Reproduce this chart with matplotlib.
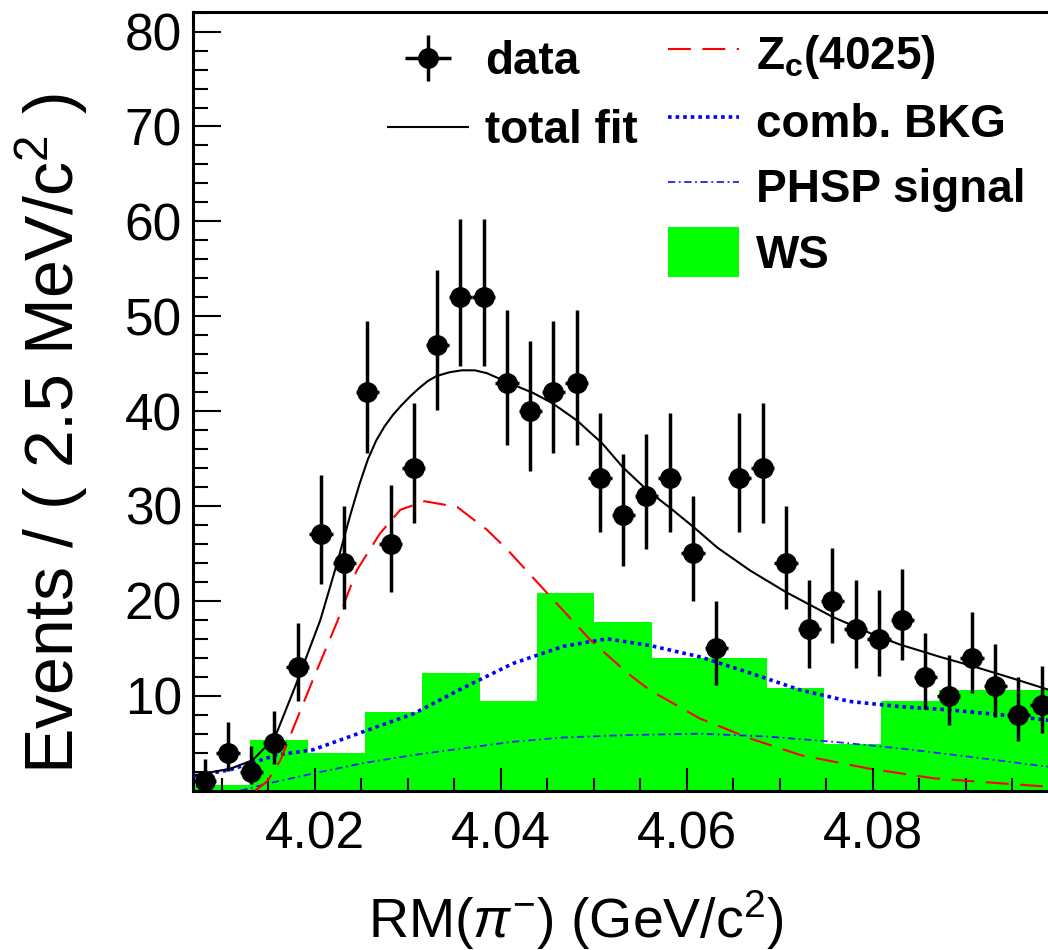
import numpy as np
import matplotlib
matplotlib.use("Agg")
import matplotlib.pyplot as plt
from matplotlib.ticker import FixedLocator, MultipleLocator

plt.rcParams["font.family"] = ["Liberation Sans", "DejaVu Sans"]
plt.rcParams["mathtext.fontset"] = "custom"
plt.rcParams["mathtext.rm"] = "Liberation Sans"
plt.rcParams["mathtext.it"] = "Liberation Sans:italic"
plt.rcParams["mathtext.bf"] = "Liberation Sans:bold"

##########
# data

# data histogram: 37 bins of 2.5 MeV starting at the low edge
bin_lo = 4.0069
bin_w = 0.0025
counts = [1, 4, 2, 5, 13, 27, 24, 42, 26, 34, 47, 52, 52, 43, 40, 42, 43, 33,
          29, 31, 33, 25, 15, 33, 34, 24, 17, 20, 17, 16, 18, 12, 10, 14, 11, 8, 9]

# WS histogram: 15 coarser bins over the same range
ws_nbins = 15
ws_counts = [0.6, 5.3, 4.0, 8.3, 12.4, 9.4, 20.8, 17.8, 14.0, 14.0, 10.8, 4.9,
             9.4, 10.6, 10.6]

# total fit
tot_x = [4.0069, 4.0109, 4.0133, 4.0157, 4.0181, 4.0206, 4.0224, 4.0238, 4.0248,
         4.0257, 4.0266, 4.0275, 4.0284, 4.0293, 4.0303, 4.0313, 4.0322, 4.0331,
         4.0345, 4.0358, 4.0372, 4.0385, 4.0408, 4.0435, 4.0456, 4.0482, 4.0509,
         4.0531, 4.0557, 4.0582, 4.0607, 4.0633, 4.0668, 4.0707, 4.0757, 4.0797,
         4.0829, 4.0872, 4.0908, 4.0948, 4.0990]
tot_y = [1.6, 2.3, 3.2, 5.6, 11.5, 18.0, 24.0, 29.0, 32.3, 34.9, 36.9, 38.4,
         39.6, 40.6, 41.6, 42.5, 43.2, 43.7, 44.1, 44.3, 44.3, 44.0, 43.0, 41.9,
         40.8, 39.0, 36.6, 34.1, 31.7, 29.8, 27.8, 25.6, 23.2, 20.9, 18.3, 16.6,
         15.4, 14.1, 13.1, 11.9, 10.6]

# Zc(4025) component
zc_x = [4.0136, 4.0149, 4.0163, 4.0174, 4.0198, 4.0224, 4.0245, 4.0270, 4.0292,
        4.0318, 4.0353, 4.0385, 4.0407, 4.0450, 4.0496, 4.0536, 4.0560, 4.0614,
        4.0668, 4.0722, 4.0794, 4.0865, 4.0937, 4.0990]
zc_y = [0.0, 1.0, 3.2, 5.9, 11.7, 17.8, 23.2, 27.1, 29.6, 30.5, 29.9, 27.5, 25.4,
        20.8, 15.9, 12.4, 10.6, 7.6, 5.5, 3.75, 2.35, 1.3, 0.77, 0.4]

# combinatorial background
comb_x = [4.0069, 4.0109, 4.0159, 4.0198, 4.0252, 4.0306, 4.0359, 4.0413, 4.0467,
          4.0514, 4.0560, 4.0614, 4.0668, 4.0722, 4.0775, 4.0829, 4.0883, 4.0937,
          4.0990]
comb_y = [1.5, 2.2, 3.75, 4.3, 6.2, 8.1, 10.8, 13.4, 15.2, 16.0, 15.3, 14.1, 12.4,
          10.6, 9.4, 8.85, 8.5, 8.0, 7.4]

# phase space signal
phsp_x = [4.0120, 4.0152, 4.0198, 4.0252, 4.0306, 4.0359, 4.0413, 4.0467, 4.0536,
          4.0614, 4.0686, 4.0757, 4.0829, 4.0901, 4.0990]
phsp_y = [0.0, 0.8, 1.8, 2.9, 3.75, 4.45, 5.15, 5.6, 5.85, 6.0, 5.7, 5.15, 4.45,
          3.6, 2.5]

##########

n = np.array(counts, dtype=float)
centers = bin_lo + bin_w * (np.arange(len(counts)) + 0.5)
err_lo = n - np.clip(n - np.sqrt(np.clip(n - 0.25, 0, None)), 0, None)
err_hi = 1.0 + np.sqrt(n + 0.75)
x_hi = bin_lo + bin_w * len(counts)
ws_edges = np.linspace(bin_lo, x_hi, ws_nbins + 1)

fig = plt.figure(figsize=(10.48, 9.5), dpi=100)
ax = fig.add_axes([193 / 1048, 1 - 790.6 / 950, 855 / 1048, 778.9 / 950])

h_ws = ax.stairs(ws_counts, ws_edges, fill=True, color="#00ff00", lw=0, zorder=1)
h_phsp, = ax.plot(phsp_x, phsp_y, color="#2020ff", lw=1.3,
                  linestyle=(0, (4, 2, 1, 2)), zorder=2)
h_comb, = ax.plot(comb_x, comb_y, color="#0000ff", lw=2.6,
                  linestyle=(0, (1, 1.1)), zorder=3)
h_zc, = ax.plot(zc_x, zc_y, color="#ff0000", lw=1.5,
                linestyle=(0, (11, 5.5)), zorder=3)
h_tot, = ax.plot(tot_x, tot_y, color="black", lw=1.5, zorder=4)
h_data = ax.errorbar(centers, n, yerr=[err_lo, err_hi], xerr=bin_w / 2,
                     fmt="o", color="black", ms=14, elinewidth=2.5, capsize=0,
                     zorder=5)

ax.set_xlim(bin_lo, bin_lo + 855 / 9300)
ax.set_ylim(0, 82.1)

ax.xaxis.set_major_locator(FixedLocator([4.02, 4.04, 4.06, 4.08]))
ax.xaxis.set_minor_locator(MultipleLocator(0.005))
ax.yaxis.set_major_locator(FixedLocator([10, 20, 30, 40, 50, 60, 70, 80]))
ax.yaxis.set_minor_locator(MultipleLocator(2))
ax.set_xticklabels(["4.02", "4.04", "4.06", "4.08"])

ax.tick_params(axis="both", which="both", direction="in", width=1.5,
               labelsize=37, colors="black")
ax.tick_params(axis="y", which="major", length=20, pad=8)
ax.tick_params(axis="y", which="minor", length=11)
ax.tick_params(axis="x", which="major", length=16.5, pad=14)
ax.tick_params(axis="x", which="minor", length=9.5)

for side in ["left", "bottom", "top"]:
    ax.spines[side].set_linewidth(2.2)
ax.spines["right"].set_visible(False)

ax.set_xlabel(r"RM($\pi^{-}$) (GeV/c$^{2}$)", fontsize=40, va="baseline")
ax.xaxis.set_label_coords(0.448, -0.189)
ax.set_ylabel(r"Events / ( 2.5 MeV/c$^{2}$ )", fontsize=49)
ax.yaxis.set_label_coords(-0.121, 0.458)

leg_font = dict(weight="bold", size=33)
leg1 = ax.legend([h_data, h_tot], ["data", "total fit"], loc="upper left",
                 bbox_to_anchor=(388 / 1048, 1 - 40 / 950),
                 bbox_transform=fig.transFigure, frameon=False, prop=leg_font,
                 handlelength=1.75, handletextpad=0.37, labelspacing=0.55,
                 borderpad=0, borderaxespad=0)
ax.add_artist(leg1)
ax.legend([h_zc, h_comb, h_phsp, h_ws],
          [r"Z$_{\mathbf{c}}$(4025)", "comb. BKG", "PHSP signal", "WS"],
          loc="upper left", bbox_to_anchor=(668 / 1048, 1 - 29 / 950),
          bbox_transform=fig.transFigure, frameon=False, prop=leg_font,
          handlelength=1.55, handleheight=1.3, handletextpad=0.37,
          labelspacing=0.33, borderpad=0, borderaxespad=0)

fig.savefig("out.png", dpi=100)
